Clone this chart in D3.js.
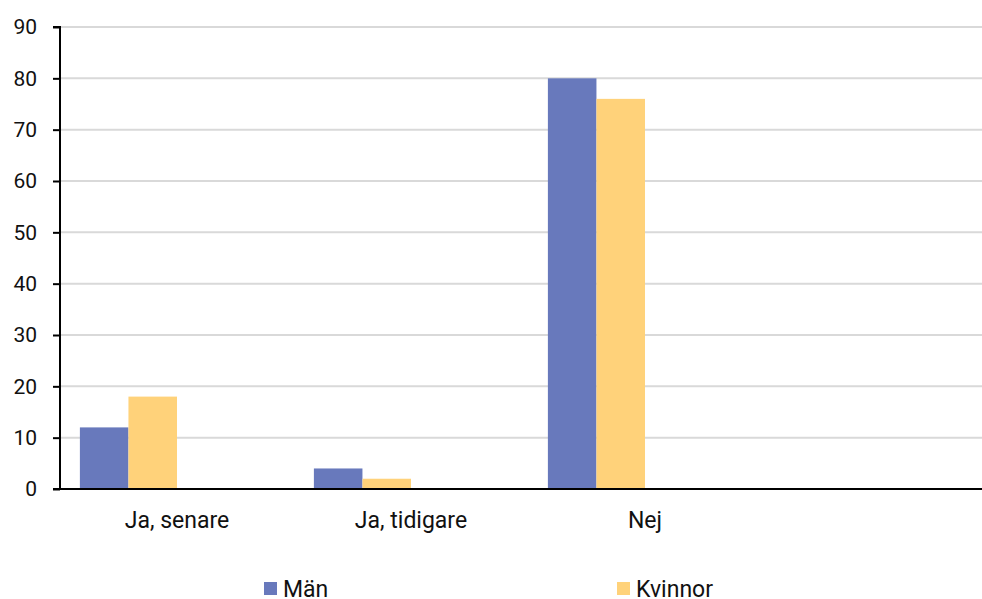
<!DOCTYPE html>
<html><head><meta charset="utf-8">
<script src="https://cdn.jsdelivr.net/npm/d3@7"></script>
<style>body{margin:0;background:#fff;}svg{display:block;font-family:Roboto,"Noto Sans",sans-serif;}</style>
</head><body>
<svg id="c" width="982" height="599"></svg>
<script>
const categories = ["Ja, senare", "Ja, tidigare", "Nej", ""];
const seriesNames = ["Män", "Kvinnor", "s3", "s4"];
const man = [12, 4, 80, null];
const kvinnor = [18, 2, 76, null];
const yTicks = [0, 10, 20, 30, 40, 50, 60, 70, 80, 90];
const colors = ["#6879bc", "#ffd27a"];

const svg = d3.select("#c");
const x0 = 60, x1 = 996, yTop = 27, yBot = 489;
const x = d3.scaleBand().domain(categories).range([x0, x1]).paddingInner(0.17).paddingOuter(0.085);
const xs = d3.scaleBand().domain(seriesNames).range([0, x.bandwidth()]);
const y = d3.scaleLinear().domain([0, 90]).range([yBot, yTop]);

// gridlines
svg.append("g").selectAll("line").data(yTicks.filter(d => d > 0)).join("line")
  .attr("x1", x0).attr("x2", 982).attr("y1", d => y(d)).attr("y2", d => y(d))
  .attr("stroke", "#d9d9d9").attr("stroke-width", 2);

const series = [man, kvinnor];
series.forEach((vals, si) => {
  svg.append("g").selectAll("rect").data(categories.map((c, i) => ({c, v: vals[i]})).filter(d => d.v != null)).join("rect")
    .attr("x", d => x(d.c) + xs(seriesNames[si]))
    .attr("width", xs.bandwidth())
    .attr("y", d => y(d.v))
    .attr("height", d => y(0) - y(d.v))
    .attr("fill", colors[si]);
});

// y axis
const ya = svg.append("g").attr("transform", `translate(${x0},0)`)
  .call(d3.axisLeft(y).tickValues(yTicks).tickSize(7).tickPadding(16));
ya.select(".domain").attr("stroke", "#000").attr("stroke-width", 2).attr("d", `M-7,${yTop}H0V${yBot}`);
ya.selectAll(".tick line").attr("stroke", "#000").attr("stroke-width", 2);
ya.selectAll(".tick text").attr("font-size", 21).attr("fill", "#111").attr("font-family", "Roboto");

// x axis
svg.append("line").attr("x1", 53).attr("x2", 982).attr("y1", yBot).attr("y2", yBot)
  .attr("stroke", "#000").attr("stroke-width", 2);
svg.append("g").selectAll("text").data(categories).join("text")
  .attr("x", d => x(d) + xs("s3"))
  .attr("y", 528)
  .attr("text-anchor", "middle").attr("font-size", 23).attr("fill", "#111")
  .text(d => d);

// legend
const legX = [264, 617];
seriesNames.slice(0, 2).forEach((n, i) => {
  svg.append("rect").attr("x", legX[i]).attr("y", 582).attr("width", 13).attr("height", 13).attr("fill", colors[i]);
  svg.append("text").attr("x", legX[i] + 19).attr("y", 597).attr("font-size", 23).attr("fill", "#111").text(n);
});
</script>
</body></html>
